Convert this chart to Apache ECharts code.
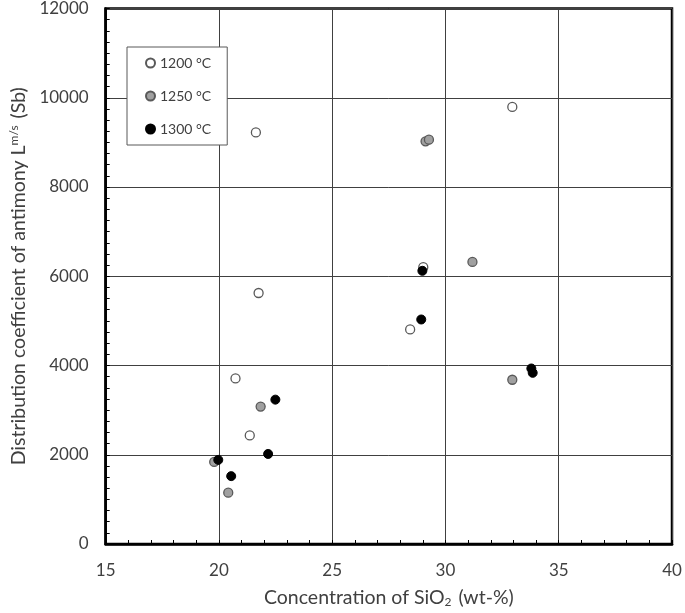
<!DOCTYPE html>
<html>
<head>
<meta charset="utf-8">
<script src="https://cdn.jsdelivr.net/npm/echarts@6/dist/echarts.min.js"></script>
<style>html,body{margin:0;padding:0;background:#fff;}#c{width:685px;height:613px;}</style>
</head>
<body>
<div id="c"></div>
<script>
const seriesNames = ['1200 °C', '1250 °C', '1300 °C'];
const data1200 = [[21.63, 9223], [32.95, 9795], [21.75, 5625], [29.02, 6204], [28.44, 4808], [20.73, 3710], [21.36, 2434]];
const data1250 = [[29.12, 9023], [29.27, 9060], [31.19, 6322], [32.95, 3681], [21.84, 3080], [19.79, 1840], [20.41, 1150]];
const data1300 = [[28.98, 6122], [28.93, 5031], [33.79, 3933], [33.85, 3836], [22.49, 3235], [22.17, 2018], [19.97, 1885], [20.54, 1521]];
const xTicks = [15, 20, 25, 30, 35, 40];
const yTicks = [0, 2000, 4000, 6000, 8000, 10000, 12000];

const FONT = 'Lato';
const TXT = '#404040';
const chart = echarts.init(document.getElementById('c'), null, {renderer: 'canvas'});
const styles = [
  {color: '#ffffff', borderColor: '#595959', borderWidth: 1.3, opacity: 1},
  {color: '#a0a0a0', borderColor: '#595959', borderWidth: 1.3, opacity: 1},
  {color: '#000000', borderColor: '#000000', borderWidth: 1, opacity: 1}
];
const datas = [data1200, data1250, data1300];
chart.setOption({
  animation: false,
  backgroundColor: '#fff',
  textStyle: {fontFamily: FONT},
  grid: {left: 98, right: 13, top: 7, bottom: 67, show: true, borderColor: '#000', borderWidth: 2.5, containLabel: false},
  legend: {
    orient: 'vertical', left: 127, top: 47,
    padding: [9, 16, 9, 18], itemGap: 19,
    borderColor: '#595959', borderWidth: 1, backgroundColor: '#fff',
    icon: 'circle', itemWidth: 9, itemHeight: 9,
    textStyle: {fontFamily: FONT, fontSize: 14, color: TXT},
    data: seriesNames
  },
  xAxis: {
    type: 'value', min: xTicks[0], max: xTicks[xTicks.length - 1], interval: 5,
    name: '{n|Concentration of SiO}{s|2}{n| (wt-%)}',
    nameLocation: 'middle', nameGap: 43,
    nameTextStyle: {rich: {n: {fontFamily: FONT, fontSize: 19.5, color: TXT}, s: {fontFamily: FONT, fontSize: 12, color: TXT, verticalAlign: 'bottom', padding: [9, 2, 0, 0]}}},
    axisLine: {show: true, onZero: false, lineStyle: {color: '#000', width: 2.5}},
    axisTick: {show: true, inside: true, length: 4, lineStyle: {color: '#000'}},
    minorTick: {show: true, splitNumber: 5, length: 4, lineStyle: {color: '#000', width: 1}},
    axisLabel: {fontFamily: FONT, fontSize: 17, color: TXT, margin: 18, formatter: v => String(v)},
    splitLine: {show: true, lineStyle: {color: '#404040', width: 1}}
  },
  yAxis: {
    type: 'value', min: yTicks[0], max: yTicks[yTicks.length - 1], interval: 2000,
    name: '{n|Distribution coefficient of antimony L}{s|m/s}{n| (Sb)}',
    nameLocation: 'middle', nameGap: 74, nameRotate: 90,
    nameTextStyle: {rich: {n: {fontFamily: FONT, fontSize: 19.5, color: TXT}, s: {fontFamily: FONT, fontSize: 12, color: TXT, verticalAlign: 'top', padding: [0, 2, 9, 0]}}},
    axisLine: {show: true, onZero: false, lineStyle: {color: '#000', width: 2.5}},
    axisTick: {show: true, inside: true, length: 4, lineStyle: {color: '#000'}},
    minorTick: {show: true, splitNumber: 8, length: 4, lineStyle: {color: '#000', width: 1}},
    axisLabel: {fontFamily: FONT, fontSize: 17, color: TXT, margin: 17, formatter: v => String(v)},
    splitLine: {show: true, lineStyle: {color: '#404040', width: 1}}
  },
  series: seriesNames.map((n, i) => ({
    name: n, type: 'scatter', symbol: 'circle', symbolSize: 9,
    itemStyle: styles[i], data: datas[i]
  }))
});
</script>
</body>
</html>
